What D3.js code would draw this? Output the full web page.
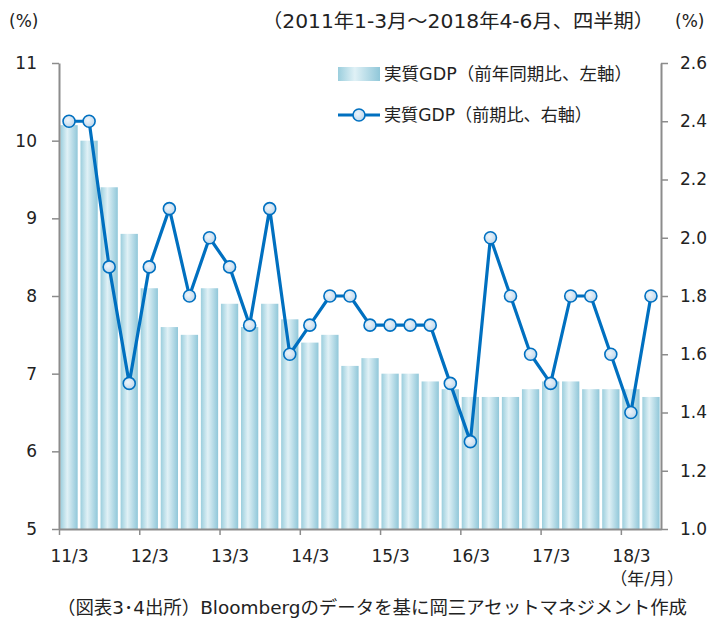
<!DOCTYPE html>
<html>
<head>
<meta charset="utf-8">
<script src="https://cdn.jsdelivr.net/npm/d3@7"></script>
<style>
  body { margin: 0; background: #fff; }
  svg text { font-family: "DejaVu Sans", "Noto Sans CJK JP", sans-serif; fill: #222; }
</style>
</head>
<body>
<div id="chart"></div>
<script>
// 四半期（2011年1-3月～2018年4-6月）
const quarters = [
  '11Q1','11Q2','11Q3','11Q4','12Q1','12Q2','12Q3','12Q4',
  '13Q1','13Q2','13Q3','13Q4','14Q1','14Q2','14Q3','14Q4',
  '15Q1','15Q2','15Q3','15Q4','16Q1','16Q2','16Q3','16Q4',
  '17Q1','17Q2','17Q3','17Q4','18Q1','18Q2'
];
// 実質GDP（前年同期比、左軸）
const yoyValues = [
  10.2, 10.0, 9.4, 8.8, 8.1, 7.6, 7.5, 8.1,
  7.9, 7.6, 7.9, 7.7, 7.4, 7.5, 7.1, 7.2,
  7.0, 7.0, 6.9, 6.8, 6.7, 6.7, 6.7, 6.8,
  6.9, 6.9, 6.8, 6.8, 6.8, 6.7
];
// 実質GDP（前期比、右軸）
const qoqValues = [
  2.4, 2.4, 1.9, 1.5, 1.9, 2.1, 1.8, 2.0,
  1.9, 1.7, 2.1, 1.6, 1.7, 1.8, 1.8, 1.7,
  1.7, 1.7, 1.7, 1.5, 1.3, 2.0, 1.8, 1.6,
  1.5, 1.8, 1.8, 1.6, 1.4, 1.8
];
const xTickLabels = ['11/3','12/3','13/3','14/3','15/3','16/3','17/3','18/3'];
const leftTicks = [5, 6, 7, 8, 9, 10, 11];
const rightTicks = [1.0, 1.2, 1.4, 1.6, 1.8, 2.0, 2.2, 2.4, 2.6];
const legendLabels = ['実質GDP（前年同期比、左軸）', '実質GDP（前期比、右軸）'];

const W = 711, H = 621;
const plot = { left: 59, right: 661, top: 63, bottom: 529 };

const svg = d3.select('#chart').append('svg')
  .attr('width', W)
  .attr('height', H);

const defs = svg.append('defs');
const barGrad = defs.append('linearGradient')
  .attr('id', 'barGrad')
  .attr('x1', '0%').attr('x2', '100%').attr('y1', '0%').attr('y2', '0%');
barGrad.append('stop').attr('offset', '0%').attr('stop-color', '#9bcedd');
barGrad.append('stop').attr('offset', '40%').attr('stop-color', '#e0f1f6');
barGrad.append('stop').attr('offset', '100%').attr('stop-color', '#90c7d9');

const dotGrad = defs.append('radialGradient')
  .attr('id', 'dotGrad')
  .attr('cx', '40%').attr('cy', '40%').attr('r', '70%');
dotGrad.append('stop').attr('offset', '0%').attr('stop-color', '#eef5fb');
dotGrad.append('stop').attr('offset', '100%').attr('stop-color', '#b9d4ea');

// スケール
const x = d3.scaleBand()
  .domain(quarters)
  .range([plot.left, plot.right])
  .paddingInner(0.14)
  .paddingOuter(0.07);

const xIdx = d3.scaleLinear()
  .domain([0, quarters.length])
  .range([plot.left, plot.right]);

const yL = d3.scaleLinear().domain([5, 11]).range([plot.bottom, plot.top]);
const yR = d3.scaleLinear().domain([1.0, 2.6]).range([plot.bottom, plot.top]);

// 棒グラフ
svg.append('g')
  .selectAll('rect')
  .data(yoyValues)
  .enter()
  .append('rect')
  .attr('x', (d, i) => x(quarters[i]))
  .attr('y', d => yL(d))
  .attr('width', x.bandwidth())
  .attr('height', d => yL(5) - yL(d))
  .attr('fill', 'url(#barGrad)');

// 軸
const axisColor = '#8c8c8c';

const gLeft = svg.append('g')
  .attr('transform', `translate(${plot.left},0)`)
  .call(d3.axisLeft(yL).tickValues(leftTicks).tickSize(7).tickSizeOuter(0).tickPadding(15)
    .tickFormat(d3.format('d')));

const gRight = svg.append('g')
  .attr('transform', `translate(${plot.right},0)`)
  .call(d3.axisRight(yR).tickValues(rightTicks).tickSize(7).tickSizeOuter(0).tickPadding(12)
    .tickFormat(d3.format('.1f')));

const gBottom = svg.append('g')
  .attr('transform', `translate(0,${plot.bottom})`)
  .call(d3.axisBottom(xIdx).tickValues(d3.range(0, quarters.length, 4)).tickSize(6)
    .tickSizeOuter(0).tickPadding(15).tickFormat((d, i) => xTickLabels[i]));

gBottom.selectAll('.tick text').attr('x', x.step() / 2);

[gLeft, gRight, gBottom].forEach(g => {
  g.select('.domain').attr('stroke', axisColor).attr('stroke-width', 2);
  g.selectAll('.tick line').attr('stroke', axisColor).attr('stroke-width', 1.5);
  g.selectAll('.tick text')
    .attr('fill', '#222')
    .style('font-size', '17px')
    .style('font-family', '"DejaVu Sans", "Noto Sans CJK JP", sans-serif');
});

// 折れ線
const line = d3.line()
  .x((d, i) => x(quarters[i]) + x.bandwidth() / 2)
  .y(d => yR(d));

svg.append('path')
  .datum(qoqValues)
  .attr('d', line)
  .attr('fill', 'none')
  .attr('stroke', '#0070c0')
  .attr('stroke-width', 3.2)
  .attr('stroke-linejoin', 'round');

svg.append('g')
  .selectAll('circle')
  .data(qoqValues)
  .enter()
  .append('circle')
  .attr('cx', (d, i) => x(quarters[i]) + x.bandwidth() / 2)
  .attr('cy', d => yR(d))
  .attr('r', 6)
  .attr('fill', 'url(#dotGrad)')
  .attr('stroke', '#0070c0')
  .attr('stroke-width', 1.6);

// 凡例
const legend = svg.append('g');
legend.append('rect')
  .attr('x', 338).attr('y', 67)
  .attr('width', 42).attr('height', 14)
  .attr('fill', 'url(#barGrad)');
legend.append('text')
  .attr('x', 384).attr('y', 80)
  .attr('textLength', 248)
  .attr('lengthAdjust', 'spacingAndGlyphs')
  .style('font-size', '17.5px')
  .text(legendLabels[0]);

legend.append('line')
  .attr('x1', 338).attr('x2', 380)
  .attr('y1', 115).attr('y2', 115)
  .attr('stroke', '#0070c0').attr('stroke-width', 3.2);
legend.append('circle')
  .attr('cx', 359).attr('cy', 115).attr('r', 6)
  .attr('fill', 'url(#dotGrad)')
  .attr('stroke', '#0070c0').attr('stroke-width', 1.6);
legend.append('text')
  .attr('x', 384).attr('y', 121)
  .attr('textLength', 208)
  .attr('lengthAdjust', 'spacingAndGlyphs')
  .style('font-size', '17.5px')
  .text(legendLabels[1]);

// テキスト
svg.append('text')
  .attr('x', 9).attr('y', 27)
  .style('font-size', '17px')
  .text('(%)');
svg.append('text')
  .attr('x', 675).attr('y', 27)
  .style('font-size', '17px')
  .text('(%)');
svg.append('text')
  .attr('x', 262).attr('y', 28)
  .attr('textLength', 392)
  .attr('lengthAdjust', 'spacingAndGlyphs')
  .style('font-size', '19px')
  .text('（2011年1-3月～2018年4-6月、四半期）');
svg.append('text')
  .attr('x', 684).attr('y', 585)
  .attr('text-anchor', 'end')
  .style('font-size', '17px')
  .text('（年/月）');
svg.append('text')
  .attr('x', 57).attr('y', 614)
  .attr('textLength', 630)
  .attr('lengthAdjust', 'spacingAndGlyphs')
  .style('font-size', '18px')
  .text('（図表3･4出所）Bloombergのデータを基に岡三アセットマネジメント作成');
</script>
</body>
</html>
